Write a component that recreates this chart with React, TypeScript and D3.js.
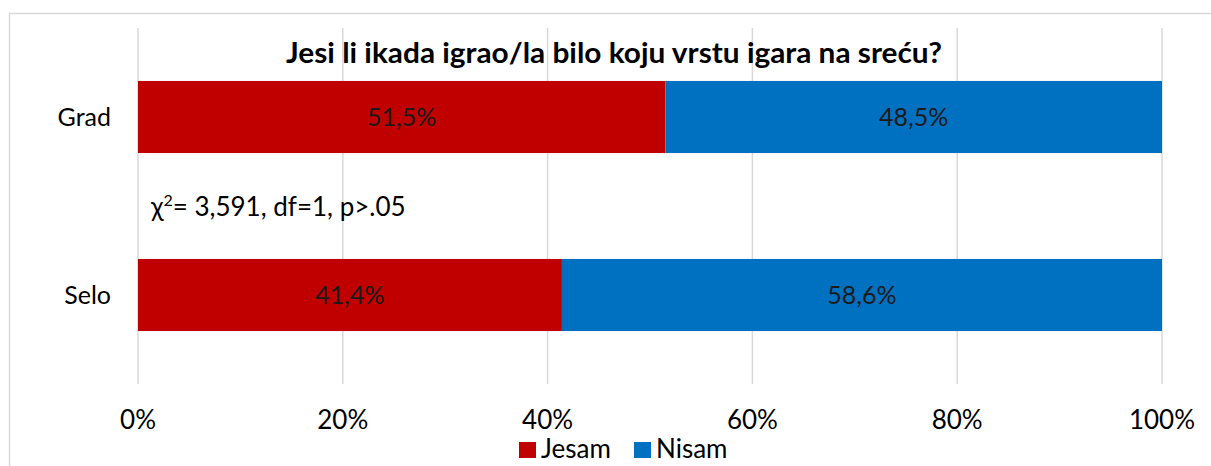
import React from "react";
import * as d3 from "d3";

const categories = ["Grad", "Selo"];
const jesam = [51.5, 41.4];
const nisam = [48.5, 58.6];
const seriesNames = ["Jesam", "Nisam"];
const seriesColors = ["#C00000", "#0070C0"];
const ticks = [0, 20, 40, 60, 80, 100];
const title = "Jesi li ikada igrao/la bilo koju vrstu igara na sreću?";

const W = 1211, H = 466;
const font = "Lato, 'Open Sans', sans-serif";

export default function App() {
  const x = d3.scaleLinear().domain([0, 100]).range([138, 1162]);
  const y = d3.scaleBand().domain(categories).range([28, 384]).paddingInner(0.595).paddingOuter(0.2975);
  const fmt = (v: number) => v.toFixed(1).replace(".", ",") + "%";
  const stacks = categories.map((c, i) => {
    const vals = [jesam[i], nisam[i]];
    let acc = 0;
    return vals.map((v, k) => {
      const s = { cat: c, x0: acc, x1: acc + v, v, color: seriesColors[k] };
      acc += v;
      return s;
    });
  });
  const legendX = [519, 634];
  return (
    <svg width={W} height={H} style={{ position: "absolute", left: 0, top: 0 }} fontFamily={font}>
      <rect x={0} y={0} width={W} height={H} fill="#fff" />
      <rect x={9.5} y={13.5} width={1230} height={500} fill="#fff" stroke="#D9D9D9" strokeWidth={1.5} />
      {ticks.map((t) => (
        <line key={t} x1={x(t)} x2={x(t)} y1={28} y2={384} stroke="#D9D9D9" strokeWidth={1.5} />
      ))}
      <text x={614} y={63} textAnchor="middle" fontWeight="bold" fontSize={28} textLength={656} lengthAdjust="spacingAndGlyphs" fill="#000">{title}</text>
      {stacks.map((segs) =>
        segs.map((s, k) => (
          <g key={s.cat + k}>
            <rect x={x(s.x0)} y={y(s.cat)!} width={x(s.x1) - x(s.x0)} height={y.bandwidth()} fill={s.color} />
            <text x={(x(s.x0) + x(s.x1)) / 2} y={y(s.cat)! + y.bandwidth() / 2 + 9} textAnchor="middle" fontSize={25} fill="#1a1a1a">{fmt(s.v)}</text>
          </g>
        ))
      )}
      {categories.map((c) => (
        <text key={c} x={111} y={y(c)! + y.bandwidth() / 2 + 9} textAnchor="end" fontSize={25} fill="#000">{c}</text>
      ))}
      <text x={151} y={216} fontSize={26} fill="#000">
        χ<tspan dy={-10} fontSize={16}>2</tspan><tspan dy={10}>= 3,591, df=1, p&gt;.05</tspan>
      </text>
      {ticks.map((t) => (
        <text key={t} x={x(t)} y={429} textAnchor="middle" fontSize={26} fill="#000">{t}%</text>
      ))}
      {seriesNames.map((n, k) => {
        const lx = legendX[k];
        return (
          <g key={n}>
            <rect x={lx} y={442} width={17} height={16} fill={seriesColors[k]} />
            <text x={lx + 22} y={458} fontSize={26} fill="#000">{n}</text>
          </g>
        );
      })}
    </svg>
  );
}
